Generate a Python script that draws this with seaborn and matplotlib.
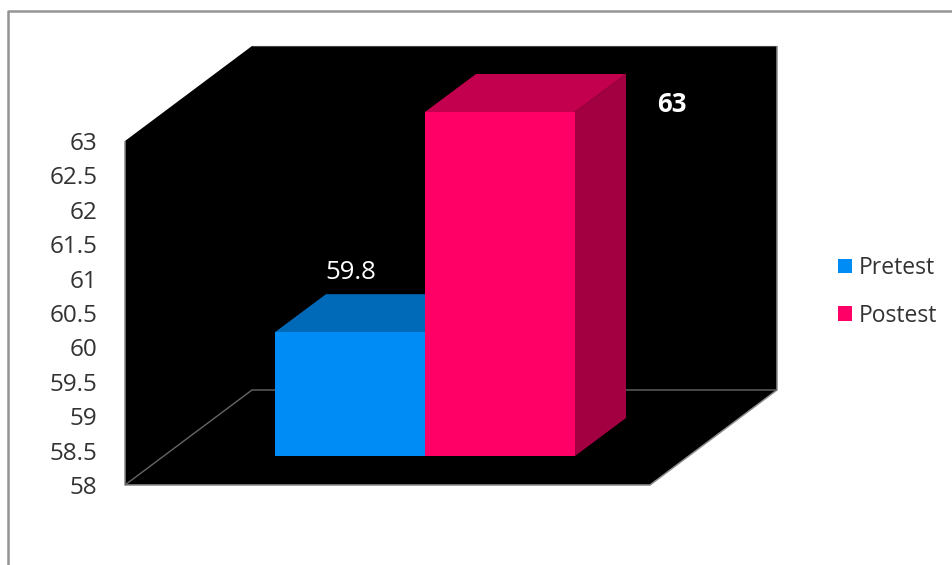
import pandas as pd
import seaborn as sns
import matplotlib.pyplot as plt
from matplotlib.patches import Patch, Rectangle

categories = ['Pretest', 'Postest']
values = [59.8, 63]
tick_values = [58, 58.5, 59, 59.5, 60, 60.5, 61, 61.5, 62, 62.5, 63]
tick_labels = ['58', '58.5', '59', '59.5', '60', '60.5', '61', '61.5', '62', '62.5', '63']
front_colors = ['#008cf5', '#ff0066']
top_colors = ['#0069b8', '#c2004e']
side_colors = ['#00568f', '#a30041']

W, H = 952, 565
Y_MIN, Y_MAX = 58, 63

sns.set_theme(style='white')
plt.rcParams['font.family'] = ['Open Sans', 'DejaVu Sans']

df = pd.DataFrame({'group': categories, 'value': values})

fig = plt.figure(figsize=(W / 100, H / 100), dpi=100)

# eksen tum figuru kapliyor: x birimi 150 px, y birimi 68.8 px
PX_X = 150
PX_Y = 68.8
ax = fig.add_axes([0, 0, 1, 1])
sns.barplot(data=df, x='group', y='value', hue='group', palette=front_colors,
            width=1, saturation=1, legend=False, ax=ax, zorder=5, linewidth=0)
ax.set_xlim(-350 / PX_X, (W - 350) / PX_X)
ax.set_ylim(Y_MIN - (H - 456) / PX_Y, Y_MIN + 456 / PX_Y)
ax.axis('off')

def px(x, y):
    return (x - 350) / PX_X, Y_MIN + (456 - y) / PX_Y

def poly(points, color, z):
    xs, ys = zip(*[px(a, b) for a, b in points])
    ax.fill(xs, ys, color=color, lw=0, zorder=z)

def line(points, color, lw, z):
    xs, ys = zip(*[px(a, b) for a, b in points])
    ax.plot(xs, ys, color=color, lw=lw, zorder=z, solid_capstyle='butt')

# dis cerceve
line([(7.5, H), (7.5, 11.3), (W, 11.3)], '#949494', 1.8, 1)

# duvarlar ve taban
poly([(125, 141), (252, 46), (777, 46), (777, 390), (650, 485), (125, 485)], 'black', 2)
line([(252, 46), (777, 46)], '#444444', 0.8, 3)
line([(125, 141), (125, 485), (650, 485), (777, 390), (777, 46)], '#8c8c8c', 1.1, 3)
line([(125, 485), (252, 390), (777, 390)], '#666666', 1.0, 3)

# 3B bar yuzleri: on yuzlerden hesaplaniyor
DX = 51 / PX_X
DY = 38 / PX_Y
bars = [p for p in ax.patches if isinstance(p, Rectangle)]
for i, (bar, val) in enumerate(zip(bars, values)):
    bar.set_y(Y_MIN)
    bar.set_height(val - Y_MIN)
    x0 = bar.get_x()
    x1 = x0 + bar.get_width()
    ax.fill([x0, x0 + DX, x1 + DX, x1], [val, val + DY, val + DY, val],
            color=top_colors[i], lw=0, zorder=4 + i * 2)
    ax.fill([x1, x1 + DX, x1 + DX, x1], [val, val + DY, Y_MIN + DY, Y_MIN],
            color=side_colors[i], lw=0, zorder=4 + i * 2)
    bar.set_zorder(5 + i * 2)

# deger etiketleri
ax.text(*px(351, 272), f'{values[0]}', color='white', fontsize=18.5,
        ha='center', va='center', zorder=10)
ax.text(*px(672, 104), f'{values[1]}', color='white', fontsize=18.5,
        fontweight='bold', ha='center', va='center', zorder=10)

# y ekseni etiketleri
ax2 = fig.add_axes([125 / W, (H - 485) / H, 525 / W, 344 / H])
ax2.patch.set_alpha(0)
ax2.set_ylim(Y_MIN, Y_MAX)
ax2.set_xticks([])
ax2.set_yticks(tick_values)
ax2.set_yticklabels(tick_labels, fontsize=17.5, color='#333333')
ax2.tick_params(axis='y', length=0, pad=20)
sns.despine(ax=ax2, left=True, bottom=True)

# lejant
handles = [Patch(facecolor=c, edgecolor='none', label=n) for c, n in zip(front_colors, categories)]
fig.legend(handles=handles, loc='center left', bbox_to_anchor=(838 / W, 1 - 292 / H),
           frameon=False, fontsize=16.5, labelcolor='#333333', handlelength=0.61,
           handleheight=0.61, handletextpad=0.3, labelspacing=1.03, borderpad=0, borderaxespad=0)

fig.savefig('out.png', dpi=100)
